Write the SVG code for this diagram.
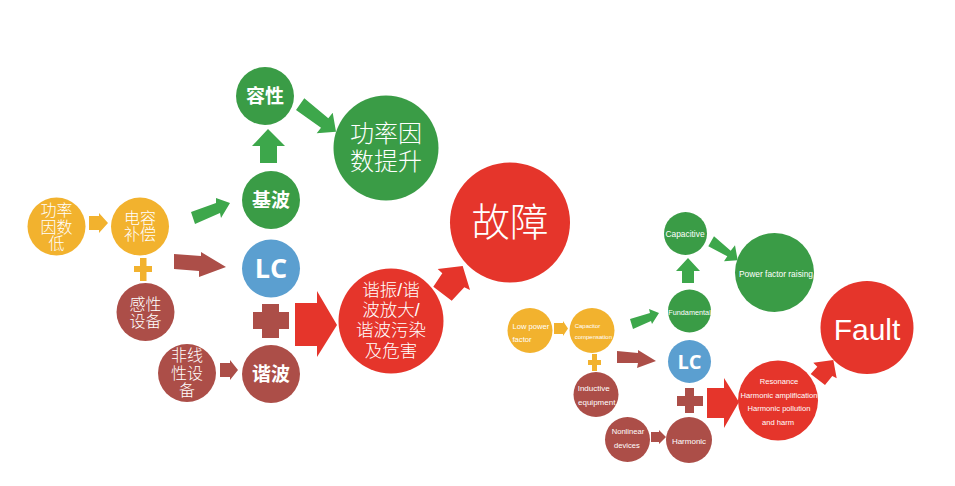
<svg xmlns="http://www.w3.org/2000/svg" width="955" height="486" viewBox="0 0 955 486">
<style>
text{fill:#fff;text-anchor:middle;font-weight:300;font-family:"Liberation Sans","Noto Sans CJK SC",sans-serif}
.en{font-family:"Liberation Sans",Arial,sans-serif;font-weight:400}
.l{text-anchor:start}
.b{font-weight:700;font-size:19px}
.c16{font-size:16px}
.lc{font-family:"Open Sans",sans-serif;font-weight:700}
.y{fill:#F2B22E}.g{fill:#3A9C46}.r{fill:#AC4E48}.d{fill:#E5352B}.u{fill:#5B9FD0}
.ag{fill:#3DA74B}
</style>
<rect width="955" height="486" fill="#fff"/>
<g id="connectors">
<polygon class="y" points="89,216 99,216 99,213 108,223 99,233 99,230 89,230"/>
<polygon class="y" points="140,258 146.500,258 146.500,266 152,266 152,272 146.500,272 146.500,281 140,281 140,272 134,272 134,266 140,266"/>
<polygon class="ag" points="191,212 216,203 216,198 230,203 221,218 220,213 195,224"/>
<polygon class="r" points="174,254 201,256 201,252 226,267 199,277 199,271 174,269"/>
<polygon class="ag" points="268,129 285,146 277,146 277,163 260,163 260,146 252,146"/>
<polygon class="ag" points="296,110 304.300,98.300 328.300,118.300 332.700,112.700 336,131.700 316.700,133.300 321,127.700"/>
<polygon class="r" points="262,304 279,304 279,312 289,312 289,329 279,329 279,338 262,338 262,329 253,329 253,312 262,312"/>
<polygon class="d" points="295,303 317,303 317,291 337,325 317,357 317,346 295,346"/>
<polygon class="r" points="220,363 230,363 230,360 238,370 230,380 230,377 220,377"/>
<polygon class="d" points="433.300,286.700 442.300,273.300 437.700,269 462.700,266 470,290 464.300,287.300 451.700,300.700"/>
<polygon class="y" points="554,323 563,323 563,321 568,328.500 563,336 563,334 554,334"/>
<polygon class="y" points="592,354 597,354 597,360 601,360 601,365 597,365 597,371 592,371 592,365 588,365 588,360 592,360"/>
<polygon class="ag" points="630,319 650,313 649,309 659,313 652,324 651,321 633,329"/>
<polygon class="r" points="617,351 638,353 638,350 656,361 637,368 638,363 617,363"/>
<polygon class="ag" points="688,258 700,271 694,271 694,283 682,283 682,271 676,271"/>
<polygon class="ag" points="708.300,246.300 714,236.300 730.700,250.700 735,245.300 737.700,260.300 724,261.300 727.300,256.300"/>
<polygon class="r" points="685,388 694,388 694,396 703,396 703,406 694,406 694,413 685,413 685,406 677,406 677,396 685,396"/>
<polygon class="d" points="707,388 724,388 724,378 739,402 724,428 724,418 707,418"/>
<polygon class="r" points="651,432 659,432 659,430 666,437 659,444 659,442 651,442"/>
<polygon class="d" points="810.700,374 817.300,366.700 813.300,362.700 833.300,360 836.700,378.300 832.300,376 825,385"/>
</g>
<g id="n-low"><circle class="y" cx="56.500" cy="226.500" r="29"/><text class="c16"><tspan x="56.500" y="216">功率</tspan><tspan x="56.500" y="232.500">因数</tspan><tspan x="56.500" y="249">低</tspan></text></g>
<g id="n-cap"><circle class="y" cx="140" cy="226.500" r="29"/><text class="c16"><tspan x="140" y="224">电容</tspan><tspan x="140" y="240">补偿</tspan></text></g>
<g id="n-ind"><circle class="r" cx="145.500" cy="312" r="29"/><text class="c16"><tspan x="145.500" y="310">感性</tspan><tspan x="145.500" y="327">设备</tspan></text></g>
<g id="n-non"><circle class="r" cx="187" cy="373" r="29"/><text class="c16"><tspan x="187" y="361">非线</tspan><tspan x="187" y="378.500">性设</tspan><tspan x="187" y="396">备</tspan></text></g>
<g id="n-har"><circle class="r" cx="271" cy="374" r="29"/><text class="b" x="271" y="381">谐波</text></g>
<g id="n-lc"><circle class="u" cx="271" cy="268.500" r="29"/><text class="lc" x="271" y="278" font-size="27">LC</text></g>
<g id="n-fund"><circle class="g" cx="271" cy="200" r="29"/><text class="b" x="271" y="207">基波</text></g>
<g id="n-capa"><circle class="g" cx="265" cy="96" r="29"/><text class="b" x="265" y="103">容性</text></g>
<g id="n-pf"><circle class="g" cx="386" cy="148" r="52.500"/><text font-size="24"><tspan x="386" y="142">功率因</tspan><tspan x="386" y="170">数提升</tspan></text></g>
<g id="n-res"><circle class="d" cx="391" cy="321" r="52.500"/><text font-size="17.500"><tspan x="391" y="296">谐振/谐</tspan><tspan x="391" y="316">波放大/</tspan><tspan x="391" y="336">谐波污染</tspan><tspan x="391" y="357">及危害</tspan></text></g>
<g id="n-fault"><circle class="d" cx="510" cy="222.500" r="60"/><text x="510" y="236" font-size="38.500">故障</text></g>
<g id="e-low"><circle class="y" cx="530" cy="330.500" r="22.500"/><text class="en l" x="512.500" y="329" font-size="7.600">Low power</text><text class="en l" x="512.500" y="342" font-size="7.600">factor</text></g>
<g id="e-cap"><circle class="y" cx="592" cy="330.500" r="22.500"/><text class="en l" x="574.700" y="327.500" font-size="6">Capacitor</text><text class="en l" x="574.700" y="338.500" font-size="6">compensation</text></g>
<g id="e-ind"><circle class="r" cx="596" cy="394.500" r="22.500"/><text class="en l" x="577.700" y="390.500" font-size="8">Inductive</text><text class="en l" x="578" y="404.500" font-size="8">equipment</text></g>
<g id="e-non"><circle class="r" cx="627.500" cy="439.500" r="22.500"/><text class="en l" x="611.700" y="433.500" font-size="7.600">Nonlinear</text><text class="en l" x="614" y="448" font-size="7.600">devices</text></g>
<g id="e-har"><circle class="r" cx="689" cy="440" r="23"/><text class="en" x="689" y="444" font-size="8">Harmonic</text></g>
<g id="e-lc"><circle class="u" cx="689.500" cy="361.500" r="21.500"/><text class="lc" x="689.500" y="368.500" font-size="20">LC</text></g>
<g id="e-fund"><circle class="g" cx="689.500" cy="311" r="21.500"/><text class="en" x="689.500" y="314.500" font-size="7.300">Fundamental</text></g>
<g id="e-capa"><circle class="g" cx="685.500" cy="233.500" r="21.500"/><text class="en" x="685" y="237" font-size="8.400">Capacitive</text></g>
<g id="e-pf"><circle class="g" cx="774.500" cy="272.500" r="39.500"/><text class="en" x="776" y="276.500" font-size="8.400">Power factor raising</text></g>
<g id="e-res"><circle class="d" cx="778" cy="400.500" r="40"/><text class="en" x="779" y="384" font-size="7.600">Resonance</text><text class="en" x="779" y="398" font-size="7.600">Harmonic amplification</text><text class="en" x="779" y="411" font-size="7.600">Harmonic pollution</text><text class="en" x="778" y="425" font-size="7.600">and harm</text></g>
<g id="e-fault"><circle class="d" cx="867" cy="327.500" r="46.500"/><text class="en" x="867" y="340" font-size="30">Fault</text></g>
</svg>
